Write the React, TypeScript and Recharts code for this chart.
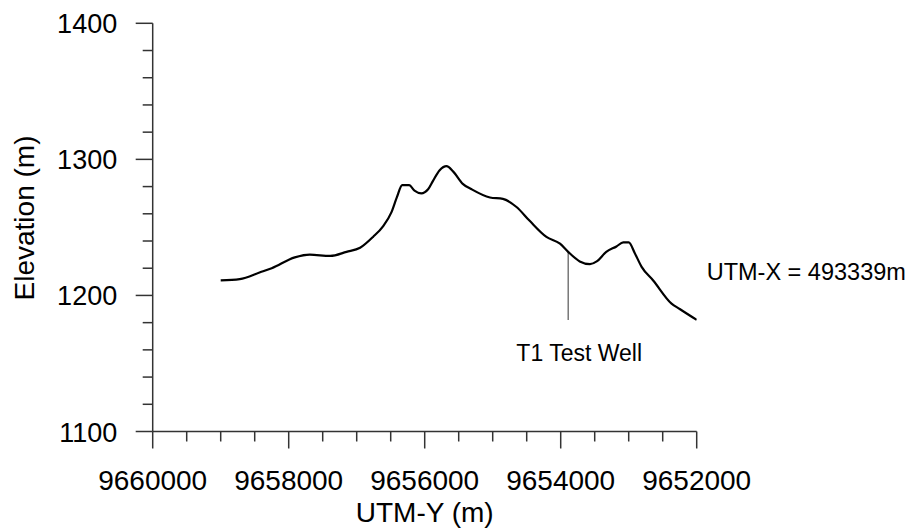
import React from 'react';
import { LineChart, Line, XAxis, YAxis, ReferenceLine, ReferenceDot } from 'recharts';

// profile along UTM-Y
const utmY = [
  9659000, 9658720, 9658420, 9658250, 9657910, 9657690, 9657390, 9657150, 9656950, 9656760,
  9656610, 9656490, 9656410, 9656330, 9656230, 9656150, 9656050, 9655950, 9655880, 9655780,
  9655680, 9655580, 9655440, 9655310, 9655040, 9654850, 9654650, 9654460, 9654210, 9654010,
  9653890, 9653720, 9653570, 9653470, 9653330, 9653180, 9653080, 9653000, 9652910, 9652810,
  9652640, 9652370, 9652250, 9652000,
];
const elevation = [
  1211, 1212, 1217, 1220, 1228, 1230, 1229, 1232, 1235, 1243,
  1251, 1261, 1272, 1281, 1281, 1277, 1275, 1278, 1284, 1292,
  1295, 1291, 1282, 1278, 1272, 1271, 1265, 1255, 1243, 1238,
  1232, 1225, 1223, 1225, 1232, 1236, 1239, 1239, 1231, 1221,
  1211, 1194, 1190, 1182,
];

const xTicks = [
  9660000, 9659500, 9659000, 9658500, 9658000, 9657500, 9657000, 9656500, 9656000,
  9655500, 9655000, 9654500, 9654000, 9653500, 9653000, 9652500, 9652000,
];
const yTicks = [
  1100, 1120, 1140, 1160, 1180, 1200, 1220, 1240, 1260, 1280,
  1300, 1320, 1340, 1360, 1380, 1400,
];

const wellY = 9653890;
const wellTop = 1232;
const wellBottom = 1182;

const data = utmY.map((y, i) => ({ utmY: y, elev: elevation[i] }));

const FONT = 'Arial, "Liberation Sans", sans-serif';
const AXIS = '#333';

const XTick = (props: any) => {
  const { x, y, payload } = props;
  const major = payload.value % 2000 === 0;
  return (
    <g>
      <line x1={x} x2={x} y1={y} y2={y + (major ? 17 : 10)} stroke={AXIS} strokeWidth={1.5} />
      {major && (
        <text x={x} y={y + 58} textAnchor="middle" fontFamily={FONT} fontSize={28} fill="#000">
          {payload.value}
        </text>
      )}
    </g>
  );
};

const YTick = (props: any) => {
  const { x, y, payload } = props;
  const major = payload.value % 100 === 0;
  return (
    <g>
      <line x1={x - (major ? 17 : 10)} x2={x} y1={y} y2={y} stroke={AXIS} strokeWidth={1.5} />
      {major && (
        <text x={x - 35.5} y={y + 10} textAnchor="end" fontFamily={FONT} fontSize={27} fill="#000">
          {payload.value}
        </text>
      )}
    </g>
  );
};

const XTitle = (props: any) => {
  const { viewBox } = props;
  return (
    <text x={viewBox.x + viewBox.width / 2} y={viewBox.y + 90} textAnchor="middle" fontFamily={FONT} fontSize={28}>
      UTM-Y (m)
    </text>
  );
};

const YTitle = () => (
  <text transform="translate(33.5,218) rotate(-90)" textAnchor="middle" fontFamily={FONT} fontSize={28}>
    Elevation (m)
  </text>
);

const WellLabel = (props: any) => {
  const { viewBox } = props;
  return (
    <text x={viewBox.x + 11} y={viewBox.y + viewBox.height + 41} textAnchor="middle" fontFamily={FONT} fontSize={23}>
      T1 Test Well
    </text>
  );
};

const SectionLabel = (props: any) => {
  const { viewBox } = props;
  return (
    <text x={viewBox.x + 10} y={viewBox.y} textAnchor="start" fontFamily={FONT} fontSize={23.5}>
      UTM-X = 493339m
    </text>
  );
};

export default function App() {
  return (
    <div style={{ position: 'absolute', left: 0, top: 0, background: '#fff' }}>
      <LineChart width={913} height={531} data={data} margin={{ top: 23.3, right: 216.3, left: 0, bottom: 0 }}>
        <XAxis
          dataKey="utmY"
          type="number"
          domain={[9652000, 9660000]}
          reversed
          ticks={xTicks}
          interval={0}
          height={99.5}
          tickSize={0}
          tickMargin={0}
          tick={<XTick />}
          stroke={AXIS}
          strokeWidth={1.5}
          allowDataOverflow
          label={<XTitle />}
        />
        <YAxis
          type="number"
          domain={[1100, 1400]}
          ticks={yTicks}
          interval={0}
          width={152.7}
          tickSize={0}
          tickMargin={0}
          tick={<YTick />}
          stroke={AXIS}
          strokeWidth={1.5}
          allowDataOverflow
          label={<YTitle />}
        />
        <ReferenceLine
          segment={[{ x: wellY, y: wellBottom }, { x: wellY, y: wellTop }]}
          stroke="#555"
          strokeWidth={1.2}
          label={<WellLabel />}
        />
        <Line
          type="monotone"
          dataKey="elev"
          stroke="#000"
          strokeWidth={2.2}
          dot={false}
          isAnimationActive={false}
        />
        <ReferenceDot x={9652000} y={1211} r={0} ifOverflow="visible" label={<SectionLabel />} />
      </LineChart>
    </div>
  );
}
